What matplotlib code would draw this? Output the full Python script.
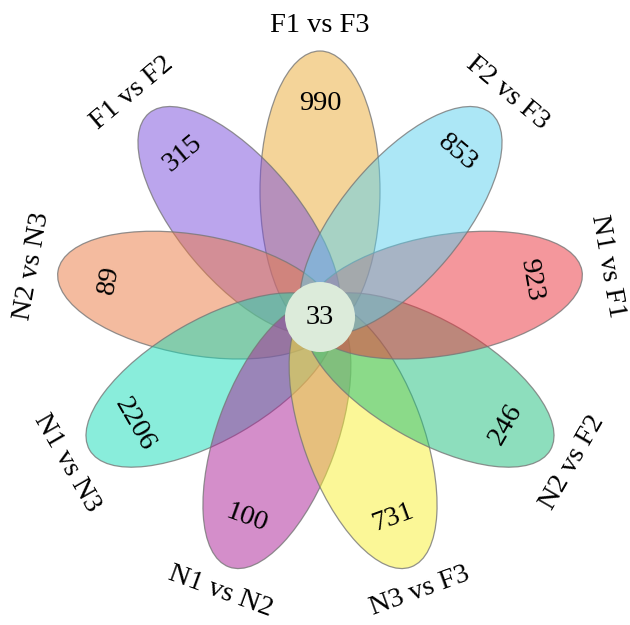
import numpy as np
import matplotlib.pyplot as plt
from matplotlib.patches import Ellipse, Circle

# petals, counter-clockwise from the top
samples = ["F1 vs F3", "F1 vs F2", "N2 vs N3", "N1 vs N3", "N1 vs N2",
           "N3 vs F3", "N2 vs F2", "N1 vs F1", "F2 vs F3"]
values = [990, 315, 89, 2206, 100, 731, 246, 923, 853]
core = 33
colors = ["#EBAB35", "#794DDD", "#EB7941", "#15DDB9", "#AB1F97",
          "#F9F131", "#1DBF7D", "#EB313B", "#5BD1EF"]

plt.rcParams["font.family"] = ["Liberation Serif", "DejaVu Serif"]

fig = plt.figure(figsize=(6.3, 6.25), dpi=100)
ax = fig.add_axes([0, 0, 1, 1])
ax.set_xlim(0, 630)
ax.set_ylim(0, 625)
ax.set_aspect("equal")
ax.axis("off")

cx, cy = 320, 308
start, n = 90, len(samples)
step = 360 / n

for i, (name, val, col) in enumerate(zip(samples, values, colors)):
    ang = start + step * i
    rad = np.deg2rad(ang)
    dx, dy = np.cos(rad), np.sin(rad)
    ax.add_patch(Ellipse((cx + 126 * dx, cy + 126 * dy), 280, 120, angle=ang,
                         facecolor=col, alpha=0.5, edgecolor="none"))
    ax.add_patch(Ellipse((cx + 126 * dx, cy + 126 * dy), 280, 120, angle=ang,
                         facecolor="none", edgecolor="#777777", lw=0.9, alpha=0.8))
    # keep text upright-ish
    rot = (ang - 90) % 360
    if rot > 90:
        rot -= 180
    if rot > 90:
        rot -= 180
    ax.text(cx + 214 * dx, cy + 214 * dy, str(val), rotation=rot,
            rotation_mode="anchor", ha="center", va="center", fontsize=20.5)
    ax.text(cx + 292 * dx, cy + 292 * dy, name, rotation=rot,
            rotation_mode="anchor", ha="center", va="center", fontsize=20.5)

ax.add_patch(Circle((cx, cy), 35, facecolor="#DCEBDA", edgecolor="none"))
ax.text(cx, cy, str(core), ha="center", va="center", fontsize=20.5)

fig.savefig("out.png", dpi=100)
